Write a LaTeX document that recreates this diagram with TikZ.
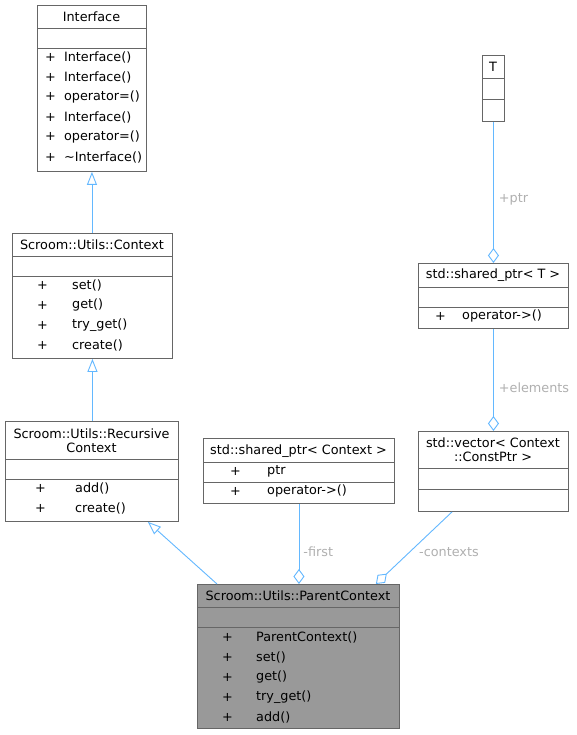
\documentclass[tikz,border=0pt]{standalone}
\usepackage{fontspec}
\setmainfont{DejaVu Sans}
\usetikzlibrary{arrows.meta}
\definecolor{edgec}{HTML}{63B8FF}
\definecolor{bordc}{HTML}{666666}
\definecolor{labc}{HTML}{B0B0B0}
\tikzset{
  box/.style={draw=bordc, line width=0.9pt, fill=white, inner sep=0pt, anchor=north west},
  sep/.style={draw=bordc, line width=0.9pt},
  txt/.style={inner sep=0pt, font=\fontsize{12.8}{14}\selectfont, align=center},
  mem/.style={inner sep=0pt, anchor=west, font=\fontsize{12.8}{14}\selectfont},
  lab/.style={inner sep=0pt, anchor=west, text=labc, font=\fontsize{12.8}{14}\selectfont},
  inh/.style={draw=edgec, line width=0.9pt, -{Triangle[open, length=13pt, width=10pt]}},
  agg/.style={draw=edgec, line width=0.9pt, -{Diamond[open, length=15pt, width=11pt]}},
}
\begin{document}
\begin{tikzpicture}[x=1pt, y=-1pt]
\useasboundingbox (0,0) rectangle (576,735);
\fill[white] (0,0) rectangle (576,735);

% Interface
\node[box, minimum width=109pt, minimum height=166pt] (iface) at (37,5) {};
\node[txt] (ifacet) at (91.5,17) {Interface};
\draw[sep] (37,28) -- (146,28);
\draw[sep] (37,48) -- (146,48);
\node[mem] (ifm1) at (45,57) {+\ \ Interface()};
\node[mem] (ifm2) at (45,77) {+\ \ Interface()};
\node[mem] (ifm3) at (45,97) {+\ \ operator=()};
\node[mem] (ifm4) at (45,117) {+\ \ Interface()};
\node[mem] (ifm5) at (45,137) {+\ \ operator=()};
\node[mem] (ifm6) at (45,157) {+\ \ \textasciitilde Interface()};

% Context
\node[box, minimum width=160pt, minimum height=125pt] (ctx) at (12,233) {};
\node[txt] (ctxt) at (92,245) {Scroom::Utils::Context};
\draw[sep] (12,256) -- (172,256);
\draw[sep] (12,276) -- (172,276);
\node[mem] (cp1) at (37,285) {+};
\node[mem] (cm1) at (72,285) {set()};
\node[mem] (cp2) at (37,305) {+};
\node[mem] (cm2) at (72,305) {get()};
\node[mem] (cp3) at (37,325) {+};
\node[mem] (cm3) at (72,325) {try\_get()};
\node[mem] (cp4) at (37,345) {+};
\node[mem] (cm4) at (72,345) {create()};

% RecursiveContext
\node[box, minimum width=173pt, minimum height=100pt] (rec) at (5,421) {};
\node[txt] (rect) at (91.5,440.5) {Scroom::Utils::Recursive\\Context};
\draw[sep] (5,459) -- (178,459);
\draw[sep] (5,479) -- (178,479);
\node[mem] (rp1) at (35,488) {+};
\node[mem] (rm1) at (75,488) {add()};
\node[mem] (rp2) at (35,508) {+};
\node[mem] (rm2) at (75,508) {create()};

% shared_ptr<Context>
\node[box, minimum width=191pt, minimum height=65pt] (spc) at (203,438) {};
\node[txt] (spct) at (298.5,451) {std::shared\_ptr< Context >};
\draw[sep] (203,462) -- (394,462);
\draw[sep] (203,482) -- (394,482);
\node[mem] (sp1) at (230,471) {+};
\node[mem] (sm1) at (267,471) {ptr};
\node[mem] (sp2) at (230,491) {+};
\node[mem] (sm2) at (267,491) {operator->()};

% ParentContext
\node[box, fill=black!40, minimum width=202pt, minimum height=144pt] (par) at (197,584) {};
\node[txt] (part) at (298,596) {Scroom::Utils::ParentContext};
\draw[sep] (197,607) -- (399,607);
\draw[sep] (197,627) -- (399,627);
\node[mem] (pp1) at (222,637) {+};
\node[mem] (pm1) at (256,637) {ParentContext()};
\node[mem] (pp2) at (222,657) {+};
\node[mem] (pm2) at (256,657) {set()};
\node[mem] (pp3) at (222,677) {+};
\node[mem] (pm3) at (256,677) {get()};
\node[mem] (pp4) at (222,697) {+};
\node[mem] (pm4) at (256,697) {try\_get()};
\node[mem] (pp5) at (222,717) {+};
\node[mem] (pm5) at (256,717) {add()};

% T
\node[box, minimum width=22pt, minimum height=66pt] (T) at (482,55) {};
\node[txt] (Tt) at (493,67) {T};
\draw[sep] (482,78) -- (504,78);
\draw[sep] (482,99) -- (504,99);

% shared_ptr<T>
\node[box, minimum width=150pt, minimum height=65pt] (spt) at (418,263) {};
\node[txt] (sptt) at (493,275) {std::shared\_ptr< T >};
\draw[sep] (418,287) -- (568,287);
\draw[sep] (418,307) -- (568,307);
\node[mem] (stp1) at (435,316) {+};
\node[mem] (stm1) at (462,316) {operator->()};

% vector
\node[box, minimum width=150pt, minimum height=80pt] (vec) at (418,431) {};
\node[txt] (vect) at (493,450) {std::vector< Context\\::ConstPtr >};
\draw[sep] (418,468) -- (568,468);
\draw[sep] (418,489) -- (568,489);

% edges
\draw[inh] (iface.south |- ctx.north) -- (iface.south);
\draw[inh] (ctx.south |- rec.north) -- (ctx.south);
\draw[inh] ([xshift=20pt]par.north west) -- ([xshift=-31pt]rec.south east);
\draw[agg] (spc.south) -- (spc.south |- par.north) node[lab, pos=0.6, xshift=4pt] (l1) {-first};
\draw[agg] ([xshift=34pt]vec.south west) -- ([xshift=-24pt]par.north east);
\node[lab] (l2) at (419,552) {-contexts};
\draw[agg] (T.south) -- (spt.north) node[lab, pos=0.55, xshift=5pt] (l3) {+ptr};
\draw[agg] (spt.south) -- (vec.north) node[lab, pos=0.58, xshift=5pt] (l4) {+elements};
\end{tikzpicture}
\end{document}
